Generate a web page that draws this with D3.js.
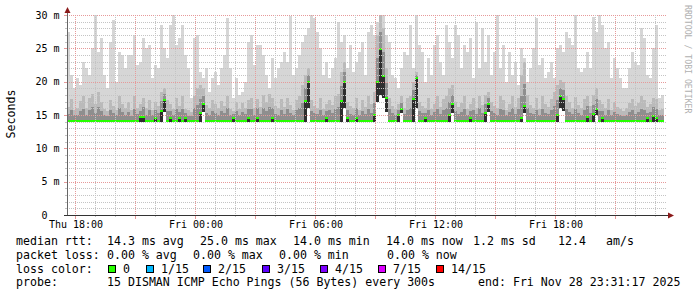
<!DOCTYPE html>
<html>
<head>
<meta charset="utf-8">
<script src="https://cdn.jsdelivr.net/npm/d3@7"></script>
<style>
    body { margin: 0; background: #fff; }
    text { font-family: "DejaVu Sans Mono", monospace; white-space: pre; }
</style>
</head>
<body>
<svg id="chart" width="697" height="297"></svg>
<script>
// smoke columns, one per 9 minutes, values in ms
const maxRtt = [
    27.5, 21, 19, 20.5, 19.5, 23, 22, 21, 25, 30,
    24.5, 26.5, 21, 19, 26, 29.2, 20, 24.5, 24, 22,
    24, 24, 27, 22.5, 23, 26.5, 25, 25.5, 20.5, 22.5,
    22, 28.5, 25, 23.5, 28.5, 30, 25.5, 26.5, 28.5, 24,
    22, 17.5, 26.5, 27, 21.5, 20.5, 22, 18.5, 20.5, 21.5,
    19.5, 22, 24, 29.5, 22, 17.5, 20.5, 18, 18.5, 20,
    26, 27, 22.5, 25.5, 25.5, 24, 21, 19, 23.5, 20.5,
    22, 23, 24.5, 23, 29.8, 21, 22, 24, 26, 27,
    28, 30, 29.5, 27.5, 25, 21, 23, 20.5, 22, 23.5,
    29, 26, 27, 22, 25.5, 21.5, 23, 24.5, 26, 21,
    27.5, 28.5, 27, 29, 30, 30, 27, 26, 21, 20.5,
    19, 22, 24.5, 24, 28.5, 22, 30, 25.5, 24.5, 20,
    23.5, 21, 25.5, 27, 23, 21, 28.5, 26, 23.5, 28.5,
    27, 22, 25.5, 24.5, 26.5, 20.5, 29, 22, 28, 23,
    27, 21, 24.5, 30, 22, 25.5, 20, 24.5, 21, 23,
    19.5, 25, 23.5, 20, 22, 25, 29.5, 22.5, 23.5, 20.5,
    21.5, 23, 20.5, 25, 25.5, 24.5, 27.5, 26.5, 25.5, 30,
    22, 21.5, 22, 24.5, 22, 29.7, 27.5, 30, 28.5, 25,
    26, 20.5, 23.5, 22, 20.5, 19, 19, 22, 24.5, 23,
    22.5, 28, 26.5, 21, 20.5, 25, 28.5, 17.5, 18
];

const upperRtt = [
    16.2, 17.4, 15.8, 16.0, 17.1, 17.8, 16.0, 17.5, 18.2, 16.6,
    18.4, 17.0, 15.9, 15.6, 17.3, 16.4, 15.8, 17.9, 16.7, 16.0,
    16.9, 15.7, 17.8, 16.1, 16.6, 17.6, 16.0, 17.3, 15.8, 16.9,
    16.4, 18.5, 19.0, 17.2, 16.6, 15.9, 17.6, 16.3, 17.8, 15.9,
    15.7, 15.5, 17.9, 19.0, 19.5, 19.0, 16.5, 16.0, 17.2, 16.6,
    16.0, 17.1, 16.4, 17.9, 15.9, 15.6, 17.0, 15.9, 16.8, 16.1,
    17.2, 17.6, 16.0, 17.4, 16.2, 18.0, 17.0, 18.2, 17.6, 16.3,
    16.0, 17.4, 16.2, 17.6, 16.5, 15.8, 17.3, 17.9, 19.5, 21.0,
    22.0, 17.2, 16.4, 16.1, 17.5, 15.9, 16.6, 17.3, 16.5, 17.8,
    18.2, 21.5, 23.0, 17.0, 16.3, 16.0, 17.6, 15.8, 17.2, 16.2,
    17.8, 16.6, 18.5, 27.0, 30.0, 28.0, 22.0, 17.6, 16.4, 15.9,
    16.6, 17.8, 16.1, 17.5, 17.9, 20.0, 21.5, 17.0, 16.4, 16.0,
    17.5, 15.9, 16.7, 17.8, 16.2, 17.4, 17.9, 19.0, 19.5, 17.0,
    16.2, 16.8, 17.8, 15.9, 16.6, 17.5, 16.1, 17.9, 16.5, 18.0,
    18.5, 17.0, 16.4, 16.0, 17.8, 17.3, 15.8, 16.7, 17.9, 16.2,
    17.6, 21.0, 23.0, 18.0, 16.5, 16.1, 17.5, 15.9, 17.8, 16.6,
    16.2, 17.4, 18.5, 19.5, 20.2, 20.0, 17.8, 16.9, 16.1, 17.7,
    16.5, 16.0, 17.4, 17.9, 16.4, 18.0, 19.0, 17.2, 16.6, 16.0,
    17.4, 15.8, 16.9, 16.2, 15.9, 15.6, 16.0, 16.8, 17.4, 16.3,
    16.8, 17.8, 17.3, 16.2, 16.7, 17.6, 17.4, 15.8, 15.9
];

const medianRtt = [
    14.1, 14.1, 14.1, 14.1, 14.1, 14.1, 14.1, 14.1, 14.1, 14.1,
    14.1, 14.1, 14.1, 14.1, 14.1, 14.1, 14.1, 14.1, 14.1, 14.1,
    14.1, 14.1, 14.1, 14.1, 14.7, 14.7, 14.1, 14.1, 14.1, 14.6,
    14.1, 15.6, 17.2, 14.1, 14.6, 14.1, 14.1, 14.6, 14.1, 14.6,
    14.1, 14.1, 14.1, 14.1, 15.3, 16.6, 14.1, 14.1, 14.1, 14.1,
    14.1, 14.1, 14.1, 14.1, 14.1, 14.6, 14.1, 14.1, 14.1, 14.1,
    14.6, 14.1, 14.1, 14.6, 14.1, 14.1, 14.1, 14.1, 14.6, 14.1,
    14.1, 14.1, 14.1, 14.1, 14.1, 14.1, 14.1, 14.1, 14.1, 17.1,
    20.0, 14.1, 14.1, 14.1, 14.1, 14.1, 14.6, 14.1, 14.1, 14.1,
    14.1, 17.1, 20.0, 14.6, 14.1, 14.1, 14.6, 14.1, 14.1, 14.1,
    14.1, 14.1, 15.0, 20.0, 24.9, 20.9, 17.6, 14.1, 14.1, 14.1,
    15.0, 15.9, 14.1, 14.1, 14.1, 17.4, 20.6, 14.1, 14.1, 14.6,
    14.1, 14.1, 14.1, 14.1, 14.1, 14.1, 14.1, 15.0, 16.6, 14.1,
    14.1, 14.1, 14.1, 14.1, 14.6, 14.1, 14.1, 14.1, 14.1, 15.3,
    16.6, 14.1, 14.1, 14.1, 14.1, 14.1, 14.1, 14.1, 14.1, 14.1,
    14.1, 14.6, 16.4, 14.1, 14.1, 14.1, 14.1, 14.1, 14.1, 14.1,
    14.1, 14.1, 14.1, 15.0, 17.8, 17.4, 14.1, 14.1, 14.1, 14.1,
    14.1, 14.1, 14.1, 14.7, 14.1, 15.1, 15.9, 14.1, 14.6, 14.1,
    14.1, 14.1, 14.1, 14.1, 14.1, 14.1, 14.1, 14.1, 14.1, 14.1,
    14.1, 14.1, 14.1, 14.5, 14.1, 14.8, 14.5, 14.1, 14.1
];

const minRtt = [
    14, 14, 14, 14, 14, 14, 14, 14, 14, 14,
    14, 14, 14, 14, 14, 14, 14, 14, 14, 14,
    14, 14, 14, 14, 14, 14, 14, 14, 14, 14,
    14, 14, 15.5, 14, 14, 14, 14, 14, 14, 14,
    14, 14, 14, 14, 14, 15.4, 14, 14, 14, 14,
    14, 14, 14, 14, 14, 14, 14, 14, 14, 14,
    14, 14, 14, 14, 14, 14, 14, 14, 14, 14,
    14, 14, 14, 14, 14, 14, 14, 14, 14, 14,
    16, 14, 14, 14, 14, 14, 14, 14, 14, 14,
    14, 14, 16, 14, 14, 14, 14, 14, 14, 14,
    14, 14, 14, 17, 18, 17.5, 15.5, 14, 14, 14,
    14, 15.3, 14, 14, 14, 14, 16, 14, 14, 14,
    14, 14, 14, 14, 14, 14, 14, 14, 15.3, 14,
    14, 14, 14, 14, 14, 14, 14, 14, 14, 14,
    15.5, 14, 14, 14, 14, 14, 14, 14, 14, 14,
    14, 14, 15.3, 14, 14, 14, 14, 14, 14, 14,
    14, 14, 14, 14, 16, 15.6, 14, 14, 14, 14,
    14, 14, 14, 14, 14, 14, 15, 14, 14, 14,
    14, 14, 14, 14, 14, 14, 14, 14, 14, 14,
    14, 14, 14, 14, 14, 14, 14, 14, 14
];

const lossLabels = ['0', '1/15', '2/15', '3/15', '4/15', '7/15', '14/15'];
const lossColors = ['#26ff00', '#00b8ff', '#0059ff', '#5e00ff', '#7e00ff', '#dd00ff', '#ff0000'];

const legendLines = [
    [['median rtt:', 16], ['14.3 ms avg', 107], ['25.0 ms max', 200], ['14.0 ms min', 293],
     ['14.0 ms now', 386], ['1.2 ms sd', 473], ['12.4', 558], ['am/s', 606]],
    [['packet loss:', 16], ['0.00 % avg', 107], ['0.00 % max', 193], ['0.00 % min', 279], ['0.00 % now', 387]],
    [['loss color:', 16]],
    [['probe:', 16], ['15 DISMAN ICMP Echo Pings (56 Bytes) every 300s', 107], ['end: Fri Nov 28 23:31:17 2025', 478]]
];
const legendBaselines = [245, 259, 272.5, 286];
const lossBoxX = [108, 146, 203, 262, 320, 378, 436];

const start = new Date(2025, 10, 27, 17, 36);
const end = new Date(2025, 10, 28, 23, 36);
const stepMinutes = 9;

const svg = d3.select('#chart');

const x = d3.scaleTime().domain([start, end]).range([67, 667]);
const y = d3.scaleLinear().domain([0, 30]).range([215, 15]);

const cols = maxRtt.map((mx, i) => ({
    t0: d3.timeMinute.offset(start, i * stepMinutes),
    t1: d3.timeMinute.offset(start, (i + 1) * stepMinutes),
    max: mx,
    upper: upperRtt[i],
    med: medianRtt[i],
    min: minRtt[i]
}));

// smoke: stacked gray bands from the fastest ping up
function smokeLayer(top, color) {
    svg.append('g')
        .attr('shape-rendering', 'crispEdges')
        .selectAll('rect')
        .data(cols)
        .join('rect')
        .attr('x', d => x(d.t0))
        .attr('width', d => x(d.t1) - x(d.t0))
        .attr('y', d => y(top(d)))
        .attr('height', d => Math.max(0, y(d.min) - y(top(d))))
        .attr('fill', color);
}

smokeLayer(d => d.max, '#d6d6d6');
smokeLayer(d => d.upper, '#bababa');
smokeLayer(d => (d.med + d.upper) / 2, '#8e8e8e');
smokeLayer(d => d.med, '#2e2e2e');

// median, coloured by loss (all 0 here)
svg.append('g')
    .attr('shape-rendering', 'crispEdges')
    .selectAll('rect')
    .data(cols)
    .join('rect')
    .attr('x', d => x(d.t0))
    .attr('width', d => x(d.t1) - x(d.t0))
    .attr('y', d => Math.round(y(d.med)) - 1)
    .attr('height', 2)
    .attr('fill', lossColors[0]);

// grid
const grid = svg.append('g').attr('shape-rendering', 'crispEdges');
const minorColor = '#c4c4c4';
const majorColor = '#e69a9a';

y.ticks(30).filter(v => v > 0 && v % 5 !== 0).forEach(v => {
    const yy = Math.round(y(v)) + 0.5;
    grid.append('line').attr('x1', 67).attr('x2', 667).attr('y1', yy).attr('y2', yy)
        .attr('stroke', minorColor).attr('stroke-dasharray', '1,1');
    grid.append('line').attr('x1', 65).attr('x2', 67).attr('y1', yy).attr('y2', yy).attr('stroke', minorColor);
});
y.ticks(6).filter(v => v > 0).forEach(v => {
    const yy = Math.round(y(v)) + 0.5;
    grid.append('line').attr('x1', 67).attr('x2', 667).attr('y1', yy).attr('y2', yy)
        .attr('stroke', majorColor).attr('stroke-dasharray', '1,1');
    grid.append('line').attr('x1', 64).attr('x2', 67).attr('y1', yy).attr('y2', yy).attr('stroke', majorColor);
});

d3.timeHour.every(1).range(start, end).forEach(t => {
    const major = t.getHours() % 3 === 0;
    const xx = Math.round(x(t)) + 0.5;
    const c = major ? majorColor : minorColor;
    grid.append('line').attr('x1', xx).attr('x2', xx).attr('y1', 15).attr('y2', 215)
        .attr('stroke', c).attr('stroke-dasharray', '1,1');
    grid.append('line').attr('x1', xx).attr('x2', xx).attr('y1', 215).attr('y2', major ? 219 : 217).attr('stroke', c);
});

// axes + arrows
svg.append('line').attr('x1', 67.5).attr('x2', 67.5).attr('y1', 215).attr('y2', 11)
    .attr('stroke', '#666').attr('shape-rendering', 'crispEdges');
svg.append('line').attr('x1', 64).attr('x2', 670).attr('y1', 215.5).attr('y2', 215.5)
    .attr('stroke', '#333').attr('shape-rendering', 'crispEdges');
svg.append('path').attr('d', 'M64.5,13 L70.5,13 L67.5,7 Z').attr('fill', '#8b1a1a');
svg.append('path').attr('d', 'M668,212.5 L668,218.5 L674,215.5 Z').attr('fill', '#8b1a1a');

// y labels
svg.append('g').selectAll('text')
    .data(y.ticks(6))
    .join('text')
    .attr('x', 59.5)
    .attr('y', d => y(d))
    .attr('dy', '0.35em')
    .attr('text-anchor', 'end')
    .style('font-size', '10px')
    .text(d => d === 0 ? '0  ' : d + ' m');

// x labels
const timeFmt = d3.timeFormat('%a %H:%M');
svg.append('g').selectAll('text')
    .data(d3.timeHour.every(6).range(start, end))
    .join('text')
    .attr('x', d => x(d) + 1)
    .attr('y', 228)
    .attr('text-anchor', 'middle')
    .style('font-size', '10px')
    .text(d => timeFmt(d));

svg.append('text')
    .attr('transform', 'translate(15,114) rotate(-90)')
    .attr('text-anchor', 'middle')
    .style('font-size', '11.6px')
    .text('Seconds');

svg.append('text')
    .attr('transform', 'translate(685,5) rotate(90)')
    .style('font-size', '8.2px')
    .attr('fill', '#b0b0b0')
    .text('RRDTOOL / TOBI OETIKER');

// legend
legendLines.forEach((line, li) => {
    line.forEach(([txt, xx]) => {
        svg.append('text')
            .attr('x', xx)
            .attr('y', legendBaselines[li])
            .style('font-size', '11.6px')
            .text(txt);
    });
});

lossLabels.forEach((lab, i) => {
    svg.append('rect')
        .attr('x', lossBoxX[i] + 0.5)
        .attr('y', 265.5)
        .attr('width', 7)
        .attr('height', 7)
        .attr('fill', lossColors[i])
        .attr('stroke', '#000');
    svg.append('text')
        .attr('x', lossBoxX[i] + 15)
        .attr('y', legendBaselines[2])
        .style('font-size', '11.6px')
        .text(lab);
});
</script>
</body>
</html>
